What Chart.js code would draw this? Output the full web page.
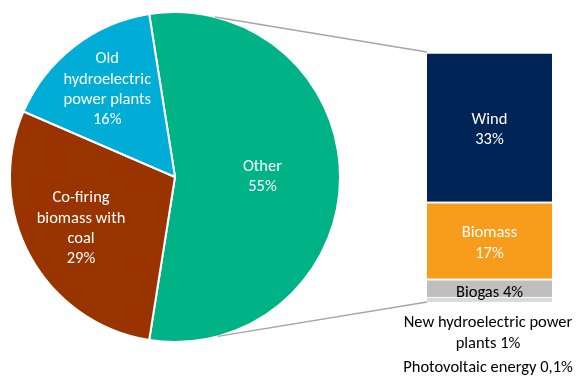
<!DOCTYPE html>
<html><head><meta charset="utf-8">
<script src="https://cdn.jsdelivr.net/npm/chart.js@4"></script>
<style>
html,body{margin:0;padding:0;background:#fff;}
#wrap{position:relative;width:576px;height:377px;overflow:hidden;}
#pie{position:absolute;left:0;top:0;}
#barBox{position:absolute;left:427px;top:52px;width:125px;height:250px;}
</style></head>
<body>
<div id="wrap">
<canvas id="pie" width="576" height="377"></canvas>
<div id="barBox"><canvas id="bar" width="125" height="250"></canvas></div>
</div>
<script>
const FONT = "Carlito, Calibri, Lato, 'Open Sans', sans-serif";
const FS = "16.5px ";
// Pie data
const pieLabels = [["Other","55%"],["Co-firing","biomass with","coal","29%"],["Old","hydroelectric","power plants","16%"]];
const pieValues = [55, 29, 16];
const pieColors = ["#00B386", "#993300", "#00ADD6"];
// Bar (breakdown of "Other") data, bottom to top
const barNames = ["Photovoltaic energy", "New hydroelectric power plants", "Biogas", "Biomass", "Wind"];
const barValues = [0.1, 1, 4, 17, 33];
const barTexts = [["Photovoltaic energy 0,1%"], ["New hydroelectric power","plants 1%"], ["Biogas 4%"], ["Biomass","17%"], ["Wind","33%"]];
const barColors = ["#D9D9D9", "#D9D9D9", "#BFBFBF", "#F89C1C", "#002456"];

Chart.defaults.animation = false;
Chart.defaults.font.family = FONT;

const barTotal = barValues.reduce((a,b)=>a+b,0);

const barChart = new Chart(document.getElementById('bar'), {
  type: 'bar',
  data: {
    labels: ['Other'],
    datasets: barValues.map((v,i)=>({
      label: barNames[i], data: [v], backgroundColor: barColors[i],
      borderColor: '#ffffff', borderWidth: {top: i>=2 ? 2 : (i===1?1:0)}, borderSkipped: false,
      barPercentage: 1, categoryPercentage: 1
    }))
  },
  options: {
    responsive: false, maintainAspectRatio: false,
    layout: {padding: 0},
    plugins: {legend: {display: false}, tooltip: {enabled: false}},
    scales: {
      x: {display: false, stacked: true},
      y: {display: false, stacked: true, min: 0, max: barTotal}
    }
  },
  plugins: [{
    id: 'barLabels',
    afterDatasetsDraw(chart) {
      const ctx = chart.ctx;
      ctx.save();
      ctx.font = FS + FONT;
      ctx.textAlign = 'center'; ctx.textBaseline = 'middle';
      [4,3].forEach(i=>{
        const el = chart.getDatasetMeta(i).data[0];
        const cy = (el.y + el.base)/2 + 3;
        const lines = barTexts[i];
        ctx.fillStyle = '#ffffff';
        lines.forEach((t,k)=>ctx.fillText(t, el.x, cy + (k-(lines.length-1)/2)*20.5));
      });
      const el = chart.getDatasetMeta(2).data[0];
      ctx.fillStyle = '#000000';
      ctx.fillText(barTexts[2][0], el.x, (el.y + el.base)/2 + 5);
      ctx.restore();
    }
  }]
});

const labelRadius = [0.53, 0.65, 0.67];

new Chart(document.getElementById('pie'), {
  type: 'pie',
  data: {
    labels: pieLabels.map(l=>l.join(' ')),
    datasets: [{data: pieValues, backgroundColor: pieColors, borderColor: '#ffffff', borderWidth: 2}]
  },
  options: {
    responsive: false, maintainAspectRatio: false,
    rotation: -9,
    layout: {padding: {left: 9, top: 11, right: 235, bottom: 34}},
    plugins: {legend: {display: false}, tooltip: {enabled: false}}
  },
  plugins: [{
    id: 'pieExtras',
    afterDatasetsDraw(chart) {
      const ctx = chart.ctx;
      const meta = chart.getDatasetMeta(0);
      const a0 = meta.data[0];
      const cx = a0.x, cy = a0.y, r = a0.outerRadius;
      ctx.save();
      // connector lines to the bar
      const bx = 427, bTop = 52 + barChart.chartArea.top, bBot = 52 + barChart.chartArea.bottom;
      const p1 = (14)*Math.PI/180, p2 = (165)*Math.PI/180;
      ctx.strokeStyle = '#A6A6A6'; ctx.lineWidth = 1.5;
      ctx.beginPath();
      ctx.moveTo(cx + r*Math.sin(p1), cy - r*Math.cos(p1)); ctx.lineTo(bx, bTop);
      ctx.moveTo(cx + r*Math.sin(p2), cy - r*Math.cos(p2)); ctx.lineTo(bx, bBot);
      ctx.stroke();
      // slice labels
      ctx.font = FS + FONT;
      ctx.textAlign = 'center'; ctx.textBaseline = 'middle';
      ctx.fillStyle = '#ffffff';
      meta.data.forEach((arc,i)=>{
        const mid = (arc.startAngle + arc.endAngle)/2;
        const rr = r*labelRadius[i];
        const x = cx + rr*Math.cos(mid), y = cy + rr*Math.sin(mid);
        const lines = pieLabels[i];
        lines.forEach((t,k)=>ctx.fillText(t, x, y + (k-(lines.length-1)/2)*20.3));
      });
      // labels for the tiny bar segments, below the bar
      ctx.fillStyle = '#000000';
      const tx = 488;
      ctx.fillText(barTexts[1][0], tx, bBot + 21);
      ctx.fillText(barTexts[1][1], tx, bBot + 42);
      ctx.fillText(barTexts[0][0], tx, bBot + 66);
      ctx.restore();
    }
  }]
});
</script>
</body></html>
